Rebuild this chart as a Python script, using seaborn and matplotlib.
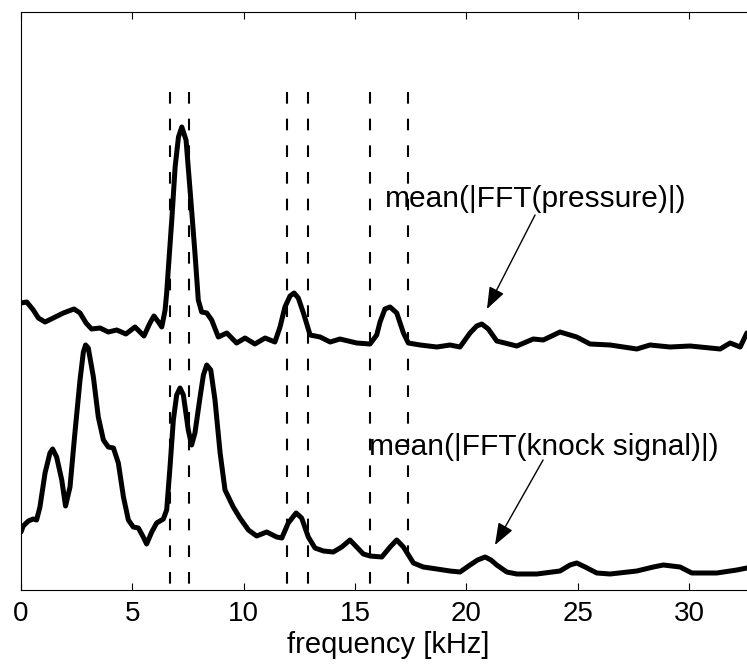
import numpy as np
import pandas as pd
import matplotlib
matplotlib.use("Agg")
import matplotlib.pyplot as plt
import seaborn as sns

# ---- data (arbitrary amplitude units) ----
freq_pressure = [0.0, 0.26, 0.55, 0.78, 1.08, 1.45, 1.9, 2.38, 2.65, 2.92, 3.17,
                 3.55, 3.92, 4.3, 4.71, 5.12, 5.52, 5.79, 5.97, 6.17, 6.32, 6.47,
                 6.54, 6.62, 6.77, 6.92, 7.07, 7.22, 7.41, 7.59, 7.81, 7.96, 8.11,
                 8.34, 8.56, 8.86, 9.24, 9.68, 10.06, 10.5, 10.96, 11.4, 11.63,
                 11.85, 12.08, 12.26, 12.45, 12.68, 12.98, 13.43, 13.88, 14.32,
                 15.07, 15.67, 15.97, 16.12, 16.34, 16.57, 16.87, 17.17, 17.39,
                 17.92, 18.67, 19.26, 19.71, 20.16, 20.46, 20.69, 20.98, 21.36,
                 22.26, 23.0, 23.45, 24.2, 24.95, 25.55, 26.45, 27.65, 28.24,
                 29.14, 30.04, 31.39, 31.84, 32.29, 32.59]
amp_pressure = [287, 288, 280, 272, 268, 272, 277, 281, 277, 267, 261,
                262, 258, 260, 256, 263, 254, 267, 274, 268, 263, 280,
                297, 323, 370, 423, 453, 463, 450, 400, 337, 290, 278,
                277, 270, 253, 257, 247, 252, 246, 252, 248, 263,
                283, 294, 297, 292, 277, 255, 253, 248, 251,
                247, 246, 255, 268, 281, 283, 277, 257, 247,
                245, 243, 245, 243, 257, 264, 266, 261, 249,
                244, 251, 250, 258, 253, 246, 245, 241, 245,
                243, 244, 241, 247, 243, 257]

freq_knock = [0.0, 0.10, 0.33, 0.55, 0.70, 0.85, 1.08, 1.30, 1.42, 1.60, 1.83,
              2.0, 2.20, 2.42, 2.65, 2.80, 2.9, 3.02, 3.25, 3.47, 3.70, 3.92,
              4.15, 4.37, 4.60, 4.82, 5.04, 5.27, 5.49, 5.64, 5.87, 6.09, 6.39,
              6.54, 6.69, 6.84, 6.99, 7.14, 7.29, 7.51, 7.66, 7.81, 8.04, 8.19,
              8.34, 8.52, 8.71, 8.94, 9.16, 9.53, 9.83, 10.21, 10.58, 11.03,
              11.48, 11.71, 12.0, 12.35, 12.6, 12.9, 13.2, 13.58, 14.02, 14.4,
              14.77, 15.07, 15.37, 15.67, 16.2, 16.57, 16.87, 17.17, 17.62,
              18.06, 18.67, 19.26, 19.71, 20.16, 20.5, 20.84, 21.1, 21.36,
              21.81, 22.26, 23.16, 24.2, 24.65, 24.95, 25.33, 25.85, 26.45,
              27.65, 28.39, 28.84, 29.59, 30.12, 31.24, 32.14, 32.59]
amp_knock = [58, 64, 69, 71, 70, 83, 117, 137, 141, 133, 110,
             84, 103, 157, 210, 238, 245, 242, 213, 173, 150, 143,
             142, 127, 93, 70, 63, 62, 53, 46, 58, 67, 71,
             80, 123, 170, 195, 202, 195, 160, 145, 157, 193, 215,
             225, 220, 190, 137, 100, 83, 72, 60, 54, 58,
             53, 52, 67, 77, 72, 53, 42, 39, 38, 43,
             50, 43, 36, 34, 33, 43, 50, 43, 27,
             23, 21, 19, 18, 25, 30, 33, 30, 25,
             18, 16, 16, 19, 25, 27, 23, 17, 16,
             19, 23, 25, 23, 17, 17, 20, 22]

mode_freqs = [6.70, 7.56, 11.96, 12.90, 15.67, 17.38]
xticks = [0, 5, 10, 15, 20, 25, 30]

df = pd.concat([
    pd.DataFrame({"f": freq_pressure, "a": amp_pressure, "s": "pressure"}),
    pd.DataFrame({"f": freq_knock, "a": amp_knock, "s": "knock"}),
])

sns.set_theme(style="white")
plt.rcParams["font.family"] = ["Liberation Sans", "DejaVu Sans"]
plt.rcParams["text.color"] = "black"
plt.rcParams["axes.labelcolor"] = "black"
plt.rcParams["xtick.color"] = "black"

W, H = 747, 665
fig = plt.figure(figsize=(W / 100, H / 100), dpi=100)
ax = fig.add_axes([21 / W, 75 / H, 735 / W, 578 / H])

sns.lineplot(data=df, x="f", y="a", units="s", estimator=None, sort=False,
             color="black", linewidth=3.6, ax=ax, legend=False)
for ln in ax.get_lines():
    ln.set_solid_joinstyle("round")
    ln.set_solid_capstyle("round")

# dashes drawn from the top down so the pattern starts with a dash at the top
ax.vlines(mode_freqs, 498, 0, colors="black", linewidth=1.5,
          linestyles=[(0, (5.6, 7.2))])

ax.set_xlim(0, 33.0)
ax.set_ylim(0, 578)
ax.set_xticks(xticks)
ax.set_xticklabels([str(t) for t in xticks])
ax.set_yticks([])
ax.tick_params(axis="x", direction="in", length=5, width=0.8, top=True,
               bottom=True, labelsize=20, pad=8, color="black",
               labelcolor="black")
for side in ["left", "bottom", "top"]:
    ax.spines[side].set_visible(True)
    ax.spines[side].set_color("black")
    ax.spines[side].set_linewidth(0.8)
ax.spines["right"].set_visible(False)

ax.set_xlabel("frequency [kHz]", fontsize=21, labelpad=3, color="black")
ax.set_ylabel("")

arrow = dict(arrowstyle="-|>,head_length=0.67,head_width=0.25", color="black",
             lw=1.0, shrinkA=0, shrinkB=0, mutation_scale=20)
ax.text(23.10, 383, "mean(|FFT(pressure)|)", fontsize=21.5, ha="center",
        va="baseline", color="black")
ax.annotate("", xy=(20.92, 281), xytext=(23.08, 375), arrowprops=arrow)
ax.text(23.46, 135, "mean(|FFT(knock signal)|)", fontsize=21.5, ha="center",
        va="baseline", color="black")
ax.annotate("", xy=(21.28, 45), xytext=(23.44, 130), arrowprops=arrow)

fig.savefig("out.png", dpi=100)
